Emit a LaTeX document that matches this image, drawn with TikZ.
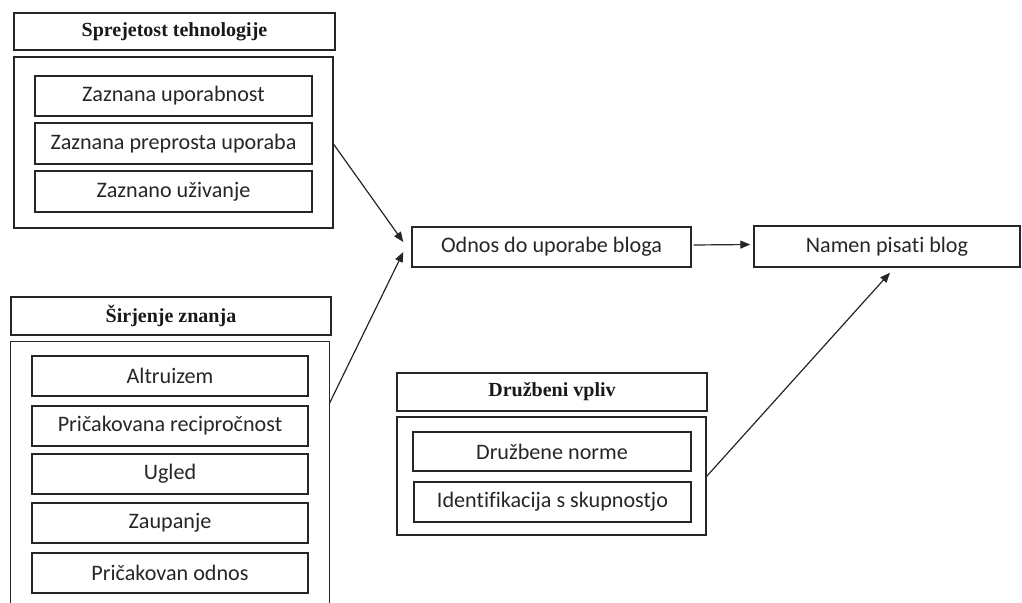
\documentclass[tikz,border=0pt]{standalone}
\usepackage{fontspec}
\setmainfont{Carlito}[Ligatures=NoCommon]
\newfontfamily\titlefont{Liberation Serif}
\usetikzlibrary{arrows.meta,calc}
\begin{document}
\begin{tikzpicture}[x=0.75pt,y=-0.75pt,
  ln/.style={line width=1.05pt,draw=black!85},
  inbox/.style={ln,rectangle,inner sep=0pt,text=black!85,font=\fontsize{16.6}{19}\selectfont},
  titlebox/.style={ln,rectangle,inner sep=0pt,text=black!90,font=\titlefont\bfseries\fontsize{15}{17}\selectfont},
  outerbox/.style={ln,rectangle,inner sep=0pt},
  conn/.style={line width=0.9pt,draw=black!85,-{Triangle[length=7.5pt,width=6pt]}}]
\useasboundingbox (0,0) rectangle (1022,603);
% Sprejetost tehnologije
\node[titlebox,minimum width=321*0.75pt,minimum height=37*0.75pt] (t1) at (174.5,31.5) {Sprejetost tehnologije};
\node[outerbox,minimum width=319*0.75pt,minimum height=171*0.75pt] (o1) at (173.5,142.5) {};
\node[inbox,minimum width=277*0.75pt,minimum height=40*0.75pt] (a1) at (173.5,96) {Zaznana uporabnost};
\node[inbox,minimum width=277*0.75pt,minimum height=41*0.75pt] (a2) at (173.5,143.5) {Zaznana preprosta uporaba};
\node[inbox,minimum width=277*0.75pt,minimum height=41*0.75pt] (a3) at (173.5,191.5) {Zaznano uživanje};
% Sirjenje znanja
\node[titlebox,minimum width=320*0.75pt,minimum height=38*0.75pt] (t2) at (171,316) {Širjenje znanja};
\node[minimum width=318*0.75pt,minimum height=261*0.75pt,inner sep=0pt] (o2) at (170,472.5) {};
\draw[ln] (o2.south west) -- (o2.north west) -- (o2.north east) -- (o2.south east);
\node[inbox,minimum width=276*0.75pt,minimum height=40*0.75pt] (b1) at (170,376) {Altruizem};
\node[inbox,minimum width=276*0.75pt,minimum height=40*0.75pt] (b2) at (170,426) {Pričakovana recipročnost};
\node[inbox,minimum width=276*0.75pt,minimum height=40*0.75pt] (b3) at (170,474) {Ugled};
\node[inbox,minimum width=276*0.75pt,minimum height=40*0.75pt] (b4) at (170,523) {Zaupanje};
\node[inbox,minimum width=276*0.75pt,minimum height=40*0.75pt] (b5) at (170,573) {Pričakovan odnos};
% Middle
\node[inbox,minimum width=279*0.75pt,minimum height=40*0.75pt] (odnos) at (551.5,247) {Odnos do uporabe bloga};
\node[inbox,minimum width=266*0.75pt,minimum height=41*0.75pt] (namen) at (887,246.5) {Namen pisati blog};
% Druzbeni vpliv
\node[titlebox,minimum width=310*0.75pt,minimum height=38*0.75pt] (t3) at (552,392) {Družbeni vpliv};
\node[outerbox,minimum width=309*0.75pt,minimum height=118*0.75pt] (o3) at (551.5,476) {};
\node[inbox,minimum width=278*0.75pt,minimum height=39*0.75pt] (c1) at (552,451.5) {Družbene norme};
\node[inbox,minimum width=277*0.75pt,minimum height=40*0.75pt] (c2) at (552.5,502) {Identifikacija s skupnostjo};
% connectors
\draw[conn] ($(o1.north east)+(0,88)$) -- ($(odnos.west)+(-8,-5)$);
\draw[conn] ($(o2.north east)+(0,62)$) -- ($(odnos.west)+(-8,5)$);
\draw[conn] ($(odnos.east)+(2,-2)$) -- ($(namen.west)+(-3,-2)$);
\draw[conn] ($(o3.north east)+(0,60)$) -- ($(namen.south)+(3,5)$);
\end{tikzpicture}
\end{document}
